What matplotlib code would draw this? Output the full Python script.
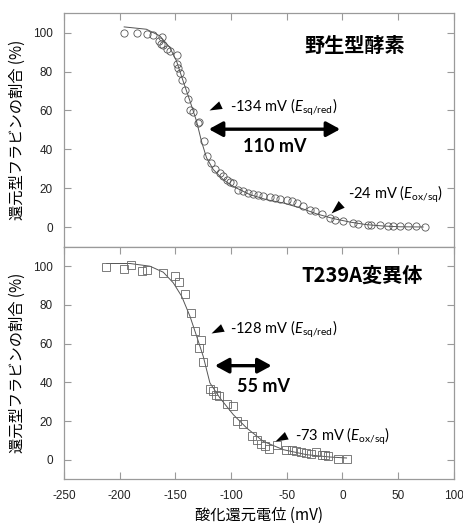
import numpy as np
import matplotlib
matplotlib.use("Agg")
import matplotlib.pyplot as plt

plt.rcParams['font.family'] = ['Liberation Sans', 'Noto Sans CJK JP', 'DejaVu Sans']
plt.rcParams['mathtext.fontset'] = 'custom'
plt.rcParams['mathtext.rm'] = 'Lato'
plt.rcParams['mathtext.it'] = 'Lato:italic'

# wild type enzyme: measured points
wt_x = [-196.2, -184.8, -175.8, -169.9, -162.3, -164.5, -163.2, -160.9, -157.8, -154.9,
        -148.9, -148.9, -147.4, -145.9, -144.4, -141.4, -138.5, -136.9, -134.0, -129.5,
        -128.8, -124.4, -121.9, -118.3, -114.5, -110.0, -107.0, -104.0, -101.0, -98.0,
        -93.6, -89.1, -84.6, -80.1, -75.6, -71.1, -65.1, -60.6, -56.2, -50.1,
        -45.6, -41.2, -35.2, -29.2, -24.7, -18.7, -11.2, -6.7, 0.7, 9.6,
        14.1, 23.1, 26.1, 33.6, 41.0, 45.5, 51.5, 59.0, 66.5, 74.0]
wt_y = [100.0, 99.7, 99.2, 98.7, 97.8, 95.7, 94.3, 93.5, 91.8, 90.6,
        88.5, 83.7, 82.0, 79.4, 75.5, 70.4, 65.7, 60.1, 59.3, 53.7,
        54.2, 44.3, 36.7, 33.1, 30.2, 27.9, 26.2, 24.5, 23.3, 22.8,
        19.4, 18.5, 17.7, 17.1, 16.5, 16.0, 15.4, 15.1, 14.8, 14.3,
        13.4, 12.5, 10.8, 9.1, 8.6, 6.8, 4.8, 4.0, 3.4, 2.2,
        1.7, 1.4, 1.4, 1.0, 0.8, 0.8, 0.6, 0.5, 0.5, 0.4]
# wild type: fitted curve
wt_fit_x = [-196, -176, -164, -155, -149, -143, -137, -131, -126.5, -122,
            -116, -107, -98, -83, -68, -53, -38, -23, -8, 7, 21.6, 36.5, 51.5, 72.5]
wt_fit_y = [102.9, 101.7, 98.3, 92.3, 85.4, 75.0, 65.0, 54.5, 44.0, 35.7,
            29.7, 24.5, 21.0, 16.8, 14.2, 12.5, 10.0, 6.9, 4.5, 2.7, 1.4, 0.7, 0.3, 0.2]

# T239A mutant: measured points
mt_x = [-212.6, -195.9, -190.1, -179.7, -175.2, -160.9, -150.4, -146.5, -141.4, -136.3,
        -132.2, -127.3, -128.8, -125.0, -119.0, -116.0, -113.6, -110.6, -103.4, -98.6,
        -94.5, -89.7, -80.8, -77.1, -73.5, -69.6, -65.8, -58.6, -51.0, -45.7,
        -41.8, -37.3, -32.8, -28.6, -23.3, -18.7, -15.8, -12.8, -3.8, 3.7]
mt_y = [99.5, 98.3, 100.4, 97.4, 97.9, 96.6, 94.9, 91.9, 85.7, 75.9,
        66.4, 62.1, 57.8, 50.3, 36.6, 35.3, 33.6, 32.8, 28.8, 27.6,
        19.8, 18.6, 12.4, 10.3, 8.1, 6.9, 5.5, 7.4, 5.2, 4.8,
        4.3, 3.8, 3.4, 3.1, 4.0, 2.6, 2.6, 1.7, 0.5, 0.5]
# T239A: fitted curve
mt_fit_x = [-211.7, -190.8, -172.8, -160.9, -151.9, -144.4, -136.9, -130.9, -125.0, -123.5,
            -119.0, -110.0, -98.0, -86.0, -71.1, -53.2, -32.2, -11.3, 3.7]
mt_fit_y = [101.4, 101.4, 100.0, 96.9, 91.4, 84.5, 74.1, 63.8, 53.4, 50.0,
            39.7, 31.9, 23.3, 16.4, 9.5, 5.2, 2.6, 1.4, 0.9]

xticks = [-250, -200, -150, -100, -50, 0, 50, 100]
yticks = [0, 20, 40, 60, 80, 100]
frame = '#9a9a9a'
ann_font = 'Lato'
jp = ['Noto Sans CJK JP', 'DejaVu Sans']

fig = plt.figure(figsize=(4.64, 5.23), dpi=100)
ax1 = fig.add_axes([0.138, 0.528, 0.840, 0.447])
ax2 = fig.add_axes([0.138, 0.084, 0.840, 0.444])

for ax in (ax1, ax2):
    ax.set_xlim(-250, 100)
    ax.set_ylim(-10, 110)
    ax.set_xticks(xticks)
    ax.set_yticks(yticks)
    for s in ax.spines.values():
        s.set_color(frame)
        s.set_linewidth(0.9)
    ax.tick_params(direction='in', length=5, width=0.8, color=frame,
                   labelsize=8.5, labelcolor='#222222', left=True, right=True, pad=8)
    ax.set_ylabel('還元型フラビンの割合 (%)', family=jp, fontsize=11, labelpad=5)

ax1.tick_params(axis='x', top=True, bottom=False, labelbottom=False)
ax2.tick_params(axis='x', top=True, bottom=True)
ax2.set_xticklabels([str(t) for t in xticks])
ax2.set_xlabel('酸化還元電位 (mV)', family=jp, fontsize=11, labelpad=3)

# curves and points
ax1.plot(wt_fit_x, wt_fit_y, color='#555555', lw=0.7)
ax1.plot(wt_x, wt_y, 'o', ms=5.2, mfc='none', mec='#555555', mew=0.6)
ax2.plot(mt_fit_x, mt_fit_y, color='#555555', lw=0.7)
ax2.plot(mt_x, mt_y, 's', ms=5.2, mfc='none', mec='#666666', mew=0.6)


def tri(ax, x, y, ang):
    # filled arrowhead whose tip sits on (x, y), pointing along ang degrees
    t = np.radians(ang)
    d = np.array([np.cos(t), np.sin(t)])
    n = np.array([-d[1], d[0]])
    base = -d
    verts = [(0, 0), tuple(base + 0.33 * n), tuple(base - 0.33 * n), (0, 0)]
    ax.plot([x], [y], marker=verts, ms=19, color='black', mew=0, ls='none')


def span(ax, x0, x1, y):
    ax.annotate('', xy=(x0, y), xytext=(x1, y),
                arrowprops=dict(arrowstyle='<|-|>,head_length=0.55,head_width=0.3',
                                mutation_scale=15, lw=2.4, color='black',
                                shrinkA=0, shrinkB=0))


# top panel annotations
ax1.text(0.745, 0.863, '野生型酵素', transform=ax1.transAxes, ha='center', va='center',
         family=jp, fontsize=14.5, fontweight='bold')
tri(ax1, -119.9, 60.0, 205)
ax1.text(-101, 61.4, r'-134 mV ($\mathit{E}_{\mathrm{sq/red}}$)', family=ann_font,
         fontsize=10.5, va='center', ha='left')
span(ax1, -120, -2, 50.4)
ax1.text(-60.6, 41.7, '110 mV', family=ann_font, fontsize=13, fontweight='bold',
         ha='center', va='center')
tri(ax1, -10.7, 7.4, 222)
ax1.text(5.2, 17.1, r'-24 mV ($\mathit{E}_{\mathrm{ox/sq}}$)', family=ann_font,
         fontsize=10.5, va='center', ha='left')

# bottom panel annotations
ax2.text(0.764, 0.879, 'T239A変異体', transform=ax2.transAxes, ha='center', va='center',
         family=jp, fontsize=14.5, fontweight='bold')
tri(ax2, -118.1, 65.6, 206)
ax2.text(-101, 67.6, r'-128 mV ($\mathit{E}_{\mathrm{sq/red}}$)', family=ann_font,
         fontsize=10.5, va='center', ha='left')
span(ax2, -114.5, -63.6, 48.6)
ax2.text(-70.8, 37.9, '55 mV', family=ann_font, fontsize=13, fontweight='bold',
         ha='center', va='center')
tri(ax2, -60.6, 9.5, 207)
ax2.text(-42.7, 12.1, r'-73 mV ($\mathit{E}_{\mathrm{ox/sq}}$)', family=ann_font,
         fontsize=10.5, va='center', ha='left')

fig.savefig('out.png', dpi=100)
